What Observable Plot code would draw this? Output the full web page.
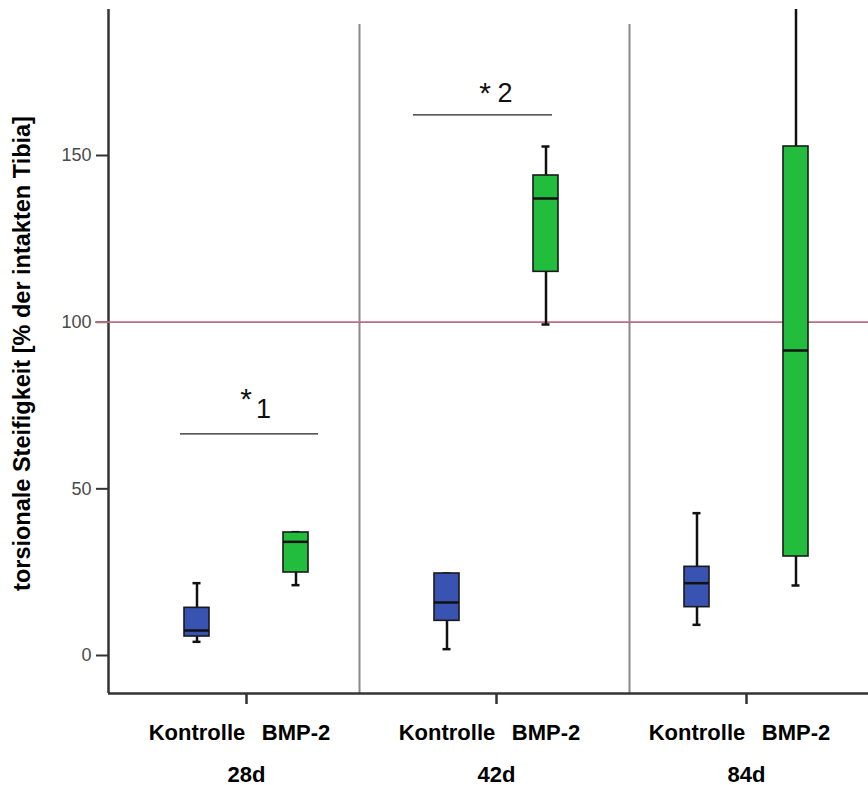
<!DOCTYPE html>
<html>
<head>
<meta charset="utf-8">
<script src="https://cdn.jsdelivr.net/npm/d3@7"></script>
<script src="https://cdn.jsdelivr.net/npm/@observablehq/plot@0.6"></script>
<style>
  html, body { margin: 0; padding: 0; background: #fff; }
  #chart svg { display: block; font-family: "Liberation Sans", Arial, sans-serif; }
</style>
</head>
<body>
<div id="chart"></div>
<script>
// ---- data ----
const groups = ["28d", "42d", "84d"];
const treatments = ["Kontrolle", "BMP-2"];
const boxGroup     = ["28d", "28d", "42d", "42d", "84d", "84d"];
const boxTreatment = ["Kontrolle", "BMP-2", "Kontrolle", "BMP-2", "Kontrolle", "BMP-2"];
const whiskerMin = [4.1, 21.1, 1.9, 99.3, 9.2, 21.0];
const q1Vals     = [5.7, 24.9, 10.4, 115.1, 14.5, 29.7];
const medianVals = [7.5, 34.1, 15.9, 137.1, 21.7, 91.5];
const q3Vals     = [14.3, 36.9, 24.6, 144.0, 26.6, 152.7];
const whiskerMax = [21.7, 37.0, 24.6, 152.7, 42.7, 194.0];
const yTicks = [0, 50, 100, 150];
const referenceValue = 100;
const yLabel = "torsionale Steifigkeit [% der intakten Tibia]";
// significance annotations (value units)
const sigLabels = ["1", "2"];
const sigFrom   = [0.736, 1.668];
const sigTo     = [1.288, 2.224];
const sigLevel  = [66.5, 162.2];
const sigStarX  = [0.998, 1.954];
const sigStarY  = [74.0, 165.8];
const sigNumX   = [1.068, 2.034];
const sigNumY   = [71.4, 166.0];
// panel separators (x units)
const panelBreaks = [1.452, 2.532];
const panelTop = 189.3;

// ---- derived tables ----
const xDomain = [0.448, 3.488];
const yDomain = [-11.4, 193.8];
const offset = {"Kontrolle": -0.198, "BMP-2": 0.198};
const boxes = boxGroup.map((g, i) => ({
  group: g,
  treatment: boxTreatment[i],
  pos: groups.indexOf(g) + 1 + offset[boxTreatment[i]],
  min: whiskerMin[i], q1: q1Vals[i], median: medianVals[i], q3: q3Vals[i], max: whiskerMax[i]
}));
const sig = sigLabels.map((l, i) => ({label: l, x1: sigFrom[i], x2: sigTo[i], y: sigLevel[i],
  sx: sigStarX[i], sy: sigStarY[i], nx: sigNumX[i], ny: sigNumY[i]}));
const groupRows = groups.map((g, i) => ({group: g, pos: i + 1}));
const bw = 0.05, cw = 0.016;

const chart = Plot.plot({
  width: 868,
  height: 785,
  marginLeft: 108,
  marginRight: 0,
  marginTop: 9,
  marginBottom: 92,
  style: {fontFamily: "'Liberation Sans', Arial, sans-serif", background: "#fff"},
  x: {type: "linear", domain: xDomain, axis: null},
  y: {domain: yDomain, axis: null},
  color: {domain: treatments, range: ["#3953b3", "#23bd3d"]},
  marks: [
    // panel separators
    Plot.ruleX(panelBreaks, {y1: yDomain[0], y2: panelTop, stroke: "#8a8a8a", strokeWidth: 2}),
    // y axis ticks & labels
    Plot.axisY({ticks: yTicks, tickSize: 12, tickPadding: 5, stroke: "#333", strokeWidth: 2, fill: "#4a4a4a", fontSize: 18, label: null}),
    // x axis ticks
    Plot.axisX({ticks: [1, 2, 3], tickSize: 11, stroke: "#333", strokeWidth: 2.5, tickFormat: () => "", label: null}),
    // axis lines
    Plot.ruleX([xDomain[0]], {y1: yDomain[0], y2: yDomain[1], stroke: "#333", strokeWidth: 2.5}),
    Plot.ruleY([yDomain[0]], {stroke: "#333", strokeWidth: 2.5}),
    // reference line
    Plot.ruleY([referenceValue], {x1: xDomain[0] - 0.052, x2: xDomain[1], stroke: "#bb6f80", strokeWidth: 1.6}),
    // whiskers
    Plot.ruleX(boxes, {x: "pos", y1: "min", y2: "q1", stroke: "#111", strokeWidth: 2.5}),
    Plot.ruleX(boxes, {x: "pos", y1: "q3", y2: d => Math.min(d.max, yDomain[1]), stroke: "#111", strokeWidth: 2.5}),
    Plot.ruleY(boxes, {y: "min", x1: d => d.pos - cw, x2: d => d.pos + cw, stroke: "#111", strokeWidth: 2.5}),
    Plot.ruleY(boxes.filter(d => d.max < yDomain[1]), {y: "max", x1: d => d.pos - cw, x2: d => d.pos + cw, stroke: "#111", strokeWidth: 2.5}),
    // boxes
    Plot.rect(boxes, {x1: d => d.pos - bw, x2: d => d.pos + bw, y1: "q1", y2: "q3", fill: "treatment", stroke: "#1a1a1a", strokeWidth: 1.6}),
    Plot.ruleY(boxes, {y: "median", x1: d => d.pos - bw, x2: d => d.pos + bw, stroke: "#111", strokeWidth: 2.5}),
    // significance
    Plot.ruleY(sig, {y: "y", x1: "x1", x2: "x2", stroke: "#222", strokeWidth: 1.3}),
    Plot.text(sig, {x: "sx", y: "sy", text: () => "*", fontSize: 30, lineAnchor: "bottom", fill: "#111"}),
    Plot.text(sig, {x: "nx", y: "ny", text: "label", fontSize: 27, lineAnchor: "bottom", fill: "#111"}),
    // x category labels
    Plot.text(boxes, {x: "pos", frameAnchor: "bottom", text: "treatment", fontSize: 22, fontWeight: "bold", lineAnchor: "bottom", dy: 46.5, fill: "#000"}),
    Plot.text(groupRows, {x: "pos", frameAnchor: "bottom", text: "group", fontSize: 22, fontWeight: "bold", lineAnchor: "bottom", dy: 88, fill: "#000"}),
    // y label
    Plot.text([yLabel], {frameAnchor: "left", rotate: -90, textAnchor: "middle", text: d => d, fontSize: 23.5, fontWeight: "bold", dx: -86, dy: 2, fill: "#000"})
  ]
});
document.getElementById("chart").appendChild(chart);
</script>
</body>
</html>
